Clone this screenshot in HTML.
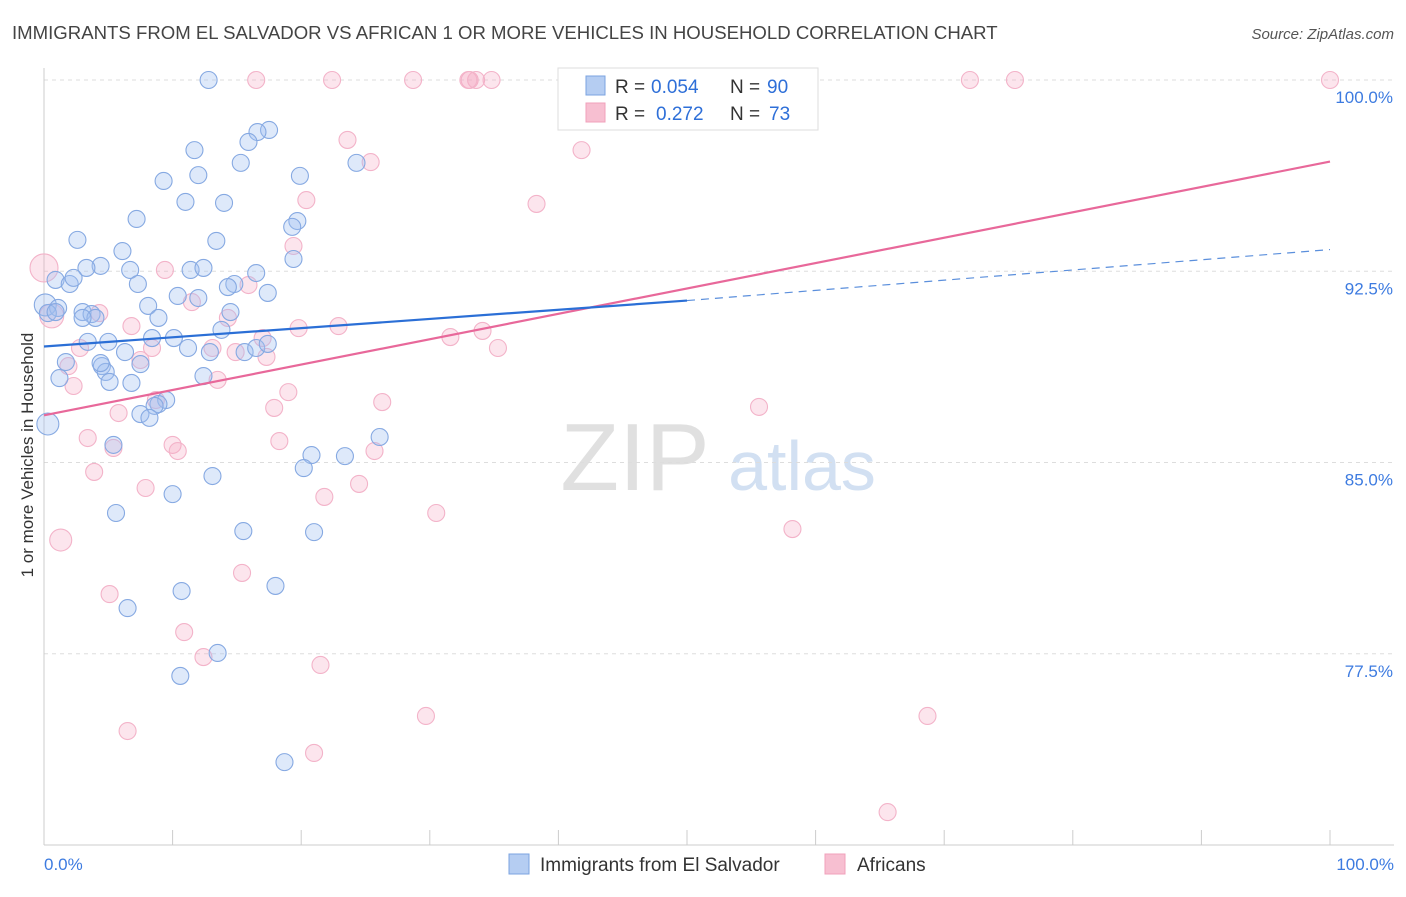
<!DOCTYPE html>
<html><head><meta charset="utf-8">
<style>
body{margin:0;background:#fff;font-family:"Liberation Sans",sans-serif;}
svg text{font-family:"Liberation Sans",sans-serif;}
</style></head>
<body>
<svg id="chart" width="1406" height="892" viewBox="0 0 1406 892">
<text x="12" y="39" font-size="18.6" fill="#444">IMMIGRANTS FROM EL SALVADOR VS AFRICAN 1 OR MORE VEHICLES IN HOUSEHOLD CORRELATION CHART</text>
<text x="1394" y="39" font-size="15" fill="#555" text-anchor="end" font-style="italic">Source: ZipAtlas.com</text>
<text transform="translate(33,455) rotate(-90)" font-size="17" fill="#333" text-anchor="middle">1 or more Vehicles in Household</text>
<g>
<text x="635" y="490" font-size="96" fill="#e0e0e0" text-anchor="middle" font-family="Liberation Serif, serif">ZIP</text>
<text x="802" y="490" font-size="70" fill="#d2e0f2" text-anchor="middle">atlas</text>
</g>
<g id="grid"></g>
<g id="axes"></g>
<g id="points"></g>
<g id="lines"></g>
<g>
<rect x="558" y="68" width="260" height="62" fill="#fff" stroke="#ddd"/>
<rect x="586" y="76" width="19" height="19" fill="#b5cdf2" stroke="#7ba3e0"/>
<text x="615" y="93" font-size="19" fill="#333">R =</text>
<text x="651" y="93" font-size="19" fill="#2e6fd8">0.054</text>
<text x="730" y="93" font-size="19" fill="#333">N =</text>
<text x="767" y="93" font-size="19" fill="#2e6fd8">90</text>
<rect x="586" y="103" width="19" height="19" fill="#f7bfd1" stroke="#f0a0bb"/>
<text x="615" y="120" font-size="19" fill="#333">R =</text>
<text x="656" y="120" font-size="19" fill="#2e6fd8">0.272</text>
<text x="730" y="120" font-size="19" fill="#333">N =</text>
<text x="769" y="120" font-size="19" fill="#2e6fd8">73</text>
</g>
<g>
<rect x="509" y="854" width="20" height="20" fill="#b5cdf2" stroke="#7ba3e0"/>
<text x="540" y="871" font-size="19" fill="#333">Immigrants from El Salvador</text>
<rect x="825" y="854" width="20" height="20" fill="#f7bfd1" stroke="#f0a0bb"/>
<text x="857" y="871" font-size="19" fill="#333">Africans</text>
</g>
</svg>
<script>
const yTicks=[100,92.5,85,77.5];
const yTickLabels=["100.0%","92.5%","85.0%","77.5%"];
const xTickLabels=["0.0%","100.0%"];
const blueX=[12.8,17.5,16.6,15.9,11.7,15.3,24.3,9.3,12.0,19.9,11.0,14.0,7.2,19.7,19.3,2.6,13.4,6.1,19.4,4.4,3.3,6.7,11.4,12.4,16.5,0.9,2.0,2.3,7.3,14.8,17.4,10.4,12.0,0.1,1.1,8.1,14.5,3.0,3.7,4.0,3.0,8.9,0.3,13.8,10.1,8.4,5.0,3.4,11.2,12.9,6.3,15.6,16.5,1.7,7.5,4.5,4.8,1.2,12.4,6.8,5.1,9.5,8.9,8.6,7.5,8.2,0.3,26.1,5.4,20.8,23.4,20.2,13.1,10.0,5.6,15.5,21.0,10.7,18.0,6.5,13.5,10.6,18.7,0.9,4.4,14.3,17.4];
const blueY=[100,98.04,97.96,97.57,97.25,96.75,96.75,96.04,96.27,96.24,95.22,95.18,94.55,94.47,94.24,93.73,93.69,93.29,92.98,92.71,92.63,92.55,92.55,92.63,92.43,92.16,92.0,92.24,92.0,92.0,91.65,91.53,91.45,91.18,91.06,91.14,90.9,90.9,90.82,90.67,90.67,90.67,90.86,90.2,89.88,89.88,89.73,89.73,89.49,89.33,89.33,89.33,89.49,88.94,88.86,88.78,88.55,88.31,88.39,88.12,88.16,87.45,87.29,87.22,86.9,86.75,86.51,86.0,85.69,85.29,85.25,84.78,84.47,83.76,83.02,82.31,82.27,79.96,80.16,79.29,77.53,76.63,73.25,90.9,88.9,91.88,89.65];
const blueSize=blueX.map((_,i)=>i===33?11:i===66?11:8.5);
const pinkX=[16.5,22.4,28.7,33.1,33.6,34.8,52.4,59.2,72.0,75.5,100,33.0,23.6,41.8,25.4,20.4,38.3,0,19.4,9.4,15.9,11.5,4.3,14.3,6.8,19.8,22.9,31.6,34.1,0.6,17.0,35.3,2.8,8.4,13.1,14.9,17.3,7.5,1.9,13.5,2.3,19.0,8.7,26.3,17.9,55.6,5.8,3.4,10.0,5.4,18.3,10.4,3.9,25.7,24.5,7.9,21.8,30.5,58.2,1.3,15.4,5.1,10.9,12.4,21.5,29.7,68.7,6.5,21.0,65.6];
const pinkY=[100,100,100,100,100,100,100,100,100,100,100,100,97.65,97.25,96.78,95.29,95.14,92.63,93.49,92.55,91.96,91.29,90.86,90.67,90.35,90.27,90.35,89.92,90.16,90.75,89.88,89.49,89.49,89.49,89.49,89.33,89.14,89.02,88.78,88.24,88.0,87.76,87.45,87.37,87.14,87.18,86.94,85.96,85.69,85.57,85.84,85.45,84.63,85.45,84.16,84.0,83.65,83.02,82.39,81.96,80.67,79.84,78.35,77.37,77.06,75.06,75.06,74.47,73.61,71.29];
const pinkSize=pinkX.map((_,i)=>i===17?14:i===29?12:i===59?11:8.5);
const blueTrend=[89.55,91.35,93.35];
const pinkTrend=[86.85,96.8];

const X0=44,X1=1330,YTOP=80,PXPER=25.5;
const xs=v=>X0+(X1-X0)*v/100;
const ys=v=>YTOP+(100-v)*PXPER;
const NS="http://www.w3.org/2000/svg";
function mk(parent,tag,attrs){const e=document.createElementNS(NS,tag);for(const k in attrs)e.setAttribute(k,attrs[k]);parent.appendChild(e);return e;}
const grid=document.getElementById('grid'),axes=document.getElementById('axes');
yTicks.forEach((t,i)=>{
  const l=mk(grid,'line',{x1:X0,x2:1394,y1:ys(t),y2:ys(t),stroke:'#ddd','stroke-dasharray':'4,4'});
  
  
  const tx=mk(axes,'text',{x:1393,y:ys(t)+23,'font-size':17,fill:'#3d7be0','text-anchor':'end'});
  tx.textContent=yTickLabels[i];
  
  
});
const ya=mk(axes,'line',{x1:X0,x2:X0,y1:68,y2:845,stroke:'#ccc'});


const xa=mk(axes,'line',{x1:X0,x2:1394,y1:845,y2:845,stroke:'#ccc'});


for(let i=0;i<=10;i++){
  const t=mk(axes,'line',{x1:xs(i*10),x2:xs(i*10),y1:830,y2:845,stroke:'#ccc'});
  
  
}
[[0,'start',44],[100,'end',1394]].forEach((d,i)=>{
  const t=mk(axes,'text',{x:d[2],y:870,'font-size':17,fill:'#3d7be0','text-anchor':d[1]});
  t.textContent=xTickLabels[i];
  
  
});
const pts=document.getElementById('points');
pinkX.forEach((x,i)=>{
  const c=mk(pts,'circle',{cx:xs(x),cy:ys(pinkY[i]),r:pinkSize[i],fill:'rgba(245,170,196,0.3)',stroke:'#f3b3c9','stroke-width':1.1});
  
  
});
blueX.forEach((x,i)=>{
  const c=mk(pts,'circle',{cx:xs(x),cy:ys(blueY[i]),r:blueSize[i],fill:'rgba(160,192,240,0.35)',stroke:'#86a9e2','stroke-width':1.1});
  
  
});
const lines=document.getElementById('lines');
const pl=mk(lines,'line',{x1:xs(0),y1:ys(pinkTrend[0]),x2:xs(100),y2:ys(pinkTrend[1]),stroke:'#e8689a','stroke-width':2.2});


const bl=mk(lines,'line',{x1:xs(0),y1:ys(blueTrend[0]),x2:xs(50),y2:ys(blueTrend[1]),stroke:'#2b6fd6','stroke-width':2.2});


const bd=mk(lines,'line',{x1:xs(50),y1:ys(blueTrend[1]),x2:xs(100),y2:ys(blueTrend[2]),stroke:'#5b8fdc','stroke-width':1.2,'stroke-dasharray':'8,6'});


</script>
</body></html>
